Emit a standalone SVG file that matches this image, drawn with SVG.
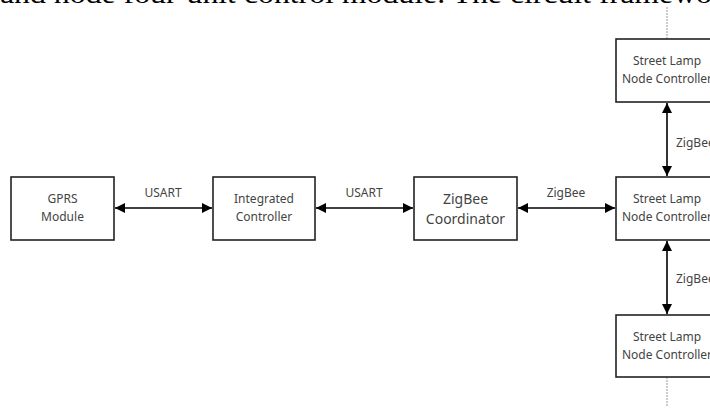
<svg xmlns="http://www.w3.org/2000/svg" width="710" height="409" viewBox="0 0 710 409">
<defs>
<marker id="ah" viewBox="0 0 10 10" refX="10" refY="5" markerWidth="10" markerHeight="10" markerUnits="userSpaceOnUse" orient="auto-start-reverse">
<path d="M0,0 L10,5 L0,10 Z" fill="#000"/>
</marker>
</defs>
<style>
.box{fill:#fff;stroke:#222;stroke-width:1.6}
.t{font-family:"Source Sans Pro","Noto Sans","Open Sans",sans-serif;font-size:12px;fill:#444;text-anchor:middle}
.tl{font-family:"Source Sans Pro","Noto Sans","Open Sans",sans-serif;font-size:14px;fill:#444;text-anchor:middle}
.lab{font-family:"Source Sans Pro","Noto Sans","Open Sans",sans-serif;font-size:12px;fill:#444}
.c{stroke:#000;stroke-width:1.6;fill:none;marker-start:url(#ah);marker-end:url(#ah)}
.d{stroke:#999;stroke-width:1;stroke-dasharray:2,1;fill:none}
</style>
<rect width="710" height="409" fill="#fff"/>
<text x="0" y="2.5" font-family="Liberation Serif,serif" font-size="27" fill="#000" textLength="712" lengthAdjust="spacingAndGlyphs">and node four-unit control module. The circuit framewo</text>
<g id="connectors">
<line class="c" x1="115" y1="208" x2="212" y2="208"/>
<line class="c" x1="316" y1="208" x2="413" y2="208"/>
<line class="c" x1="518" y1="208" x2="615" y2="208"/>
<line class="c" x1="667" y1="103" x2="667" y2="176"/>
<line class="c" x1="667" y1="241" x2="667" y2="314"/>
<line class="d" x1="667" y1="7" x2="667" y2="39"/>
<line class="d" x1="667" y1="377" x2="667" y2="407"/>
<text class="lab" x="163" y="197" text-anchor="middle">USART</text>
<text class="lab" x="364" y="197" text-anchor="middle">USART</text>
<text class="lab" x="566" y="197" text-anchor="middle">ZigBee</text>
<text class="lab" x="676" y="147">ZigBee</text>
<text class="lab" x="676" y="283">ZigBee</text>
</g>
<g id="gprs">
<rect class="box" x="11" y="177" width="103" height="63"/>
<text class="t" x="62.5" y="203">GPRS</text>
<text class="t" x="62.5" y="221">Module</text>
</g>
<g id="integrated">
<rect class="box" x="213" y="177" width="102" height="63"/>
<text class="t" x="264" y="203">Integrated</text>
<text class="t" x="264" y="221">Controller</text>
</g>
<g id="coordinator">
<rect class="box" x="414" y="177" width="103" height="63"/>
<text class="tl" x="465.5" y="204">ZigBee</text>
<text class="tl" x="465.5" y="224">Coordinator</text>
</g>
<g id="lamp1">
<rect class="box" x="616" y="39" width="102" height="63"/>
<text class="t" x="667" y="65">Street Lamp</text>
<text class="t" x="667" y="83">Node Controller</text>
</g>
<g id="lamp2">
<rect class="box" x="616" y="177" width="102" height="63"/>
<text class="t" x="667" y="203">Street Lamp</text>
<text class="t" x="667" y="221">Node Controller</text>
</g>
<g id="lamp3">
<rect class="box" x="616" y="315" width="102" height="62"/>
<text class="t" x="667" y="341">Street Lamp</text>
<text class="t" x="667" y="359">Node Controller</text>
</g>
</svg>
